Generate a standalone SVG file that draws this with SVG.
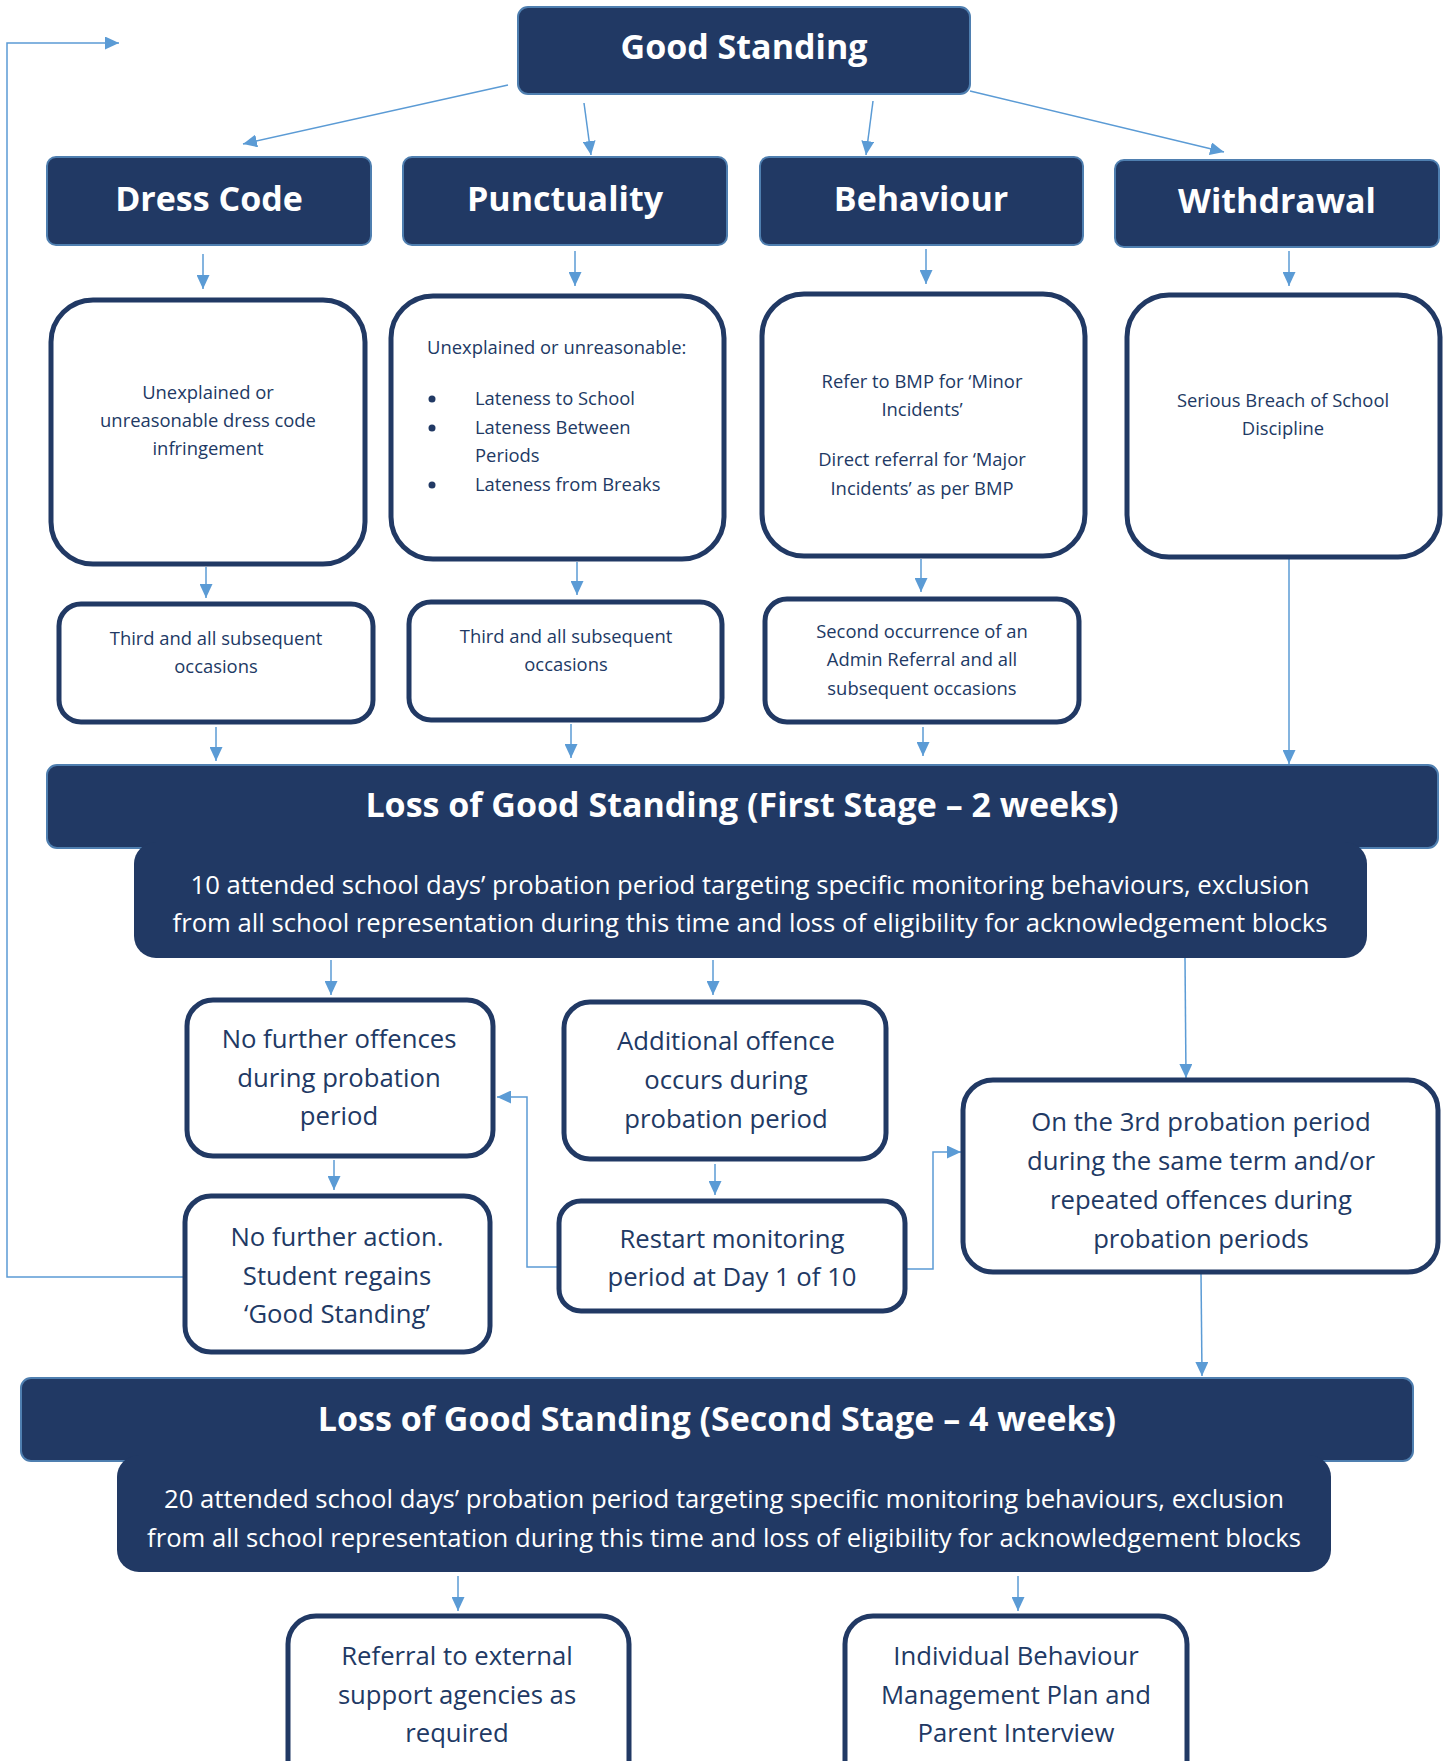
<svg xmlns="http://www.w3.org/2000/svg" width="1450" height="1761" viewBox="0 0 1450 1761">
<defs>
<marker id="ah" viewBox="0 0 10 10" refX="10" refY="5" markerWidth="14" markerHeight="13" markerUnits="userSpaceOnUse" orient="auto" preserveAspectRatio="none">
<path d="M0,0 L10,5 L0,10 z" fill="#5B9BD5"/>
</marker>
<style>
.hd{fill:#213964;stroke:#4F7FB0;stroke-width:2}
.bx{fill:#ffffff;stroke:#213964;stroke-width:5}
.ht{font-family:"Open Sans","Noto Sans",sans-serif;font-weight:bold;fill:#ffffff;text-anchor:middle}
.wt{font-family:"Open Sans","Noto Sans",sans-serif;fill:#ffffff;text-anchor:middle;font-size:25px}
.t{font-family:"Open Sans","Noto Sans",sans-serif;fill:#213964;text-anchor:middle}
.s{font-size:18.4px}
.m{font-size:25.7px}
.c{fill:none;stroke:#5B9BD5;stroke-width:1.5;marker-end:url(#ah)}
</style>
</defs>
<rect width="1450" height="1761" fill="#ffffff"/>

<g id="connectors">
<line class="c" x1="508" y1="85" x2="243" y2="144"/>
<line class="c" x1="584" y1="103" x2="591" y2="155"/>
<line class="c" x1="873" y1="101" x2="866" y2="155"/>
<line class="c" x1="970" y1="91" x2="1224" y2="152"/>
<line class="c" x1="203" y1="254" x2="203" y2="289"/>
<line class="c" x1="575" y1="251" x2="575" y2="286"/>
<line class="c" x1="926" y1="249" x2="926" y2="284"/>
<line class="c" x1="1289" y1="251" x2="1289" y2="286"/>
<line class="c" x1="206" y1="567" x2="206" y2="598"/>
<line class="c" x1="577" y1="562" x2="577" y2="595"/>
<line class="c" x1="921" y1="559" x2="921" y2="592"/>
<line class="c" x1="1289" y1="558" x2="1289" y2="764"/>
<line class="c" x1="216" y1="727" x2="216" y2="761"/>
<line class="c" x1="571" y1="724" x2="571" y2="758"/>
<line class="c" x1="923" y1="727" x2="923" y2="756"/>
<line class="c" x1="331" y1="960" x2="331" y2="995"/>
<line class="c" x1="713" y1="960" x2="713" y2="995"/>
<line class="c" x1="1185" y1="958" x2="1186" y2="1078"/>
<line class="c" x1="334" y1="1160" x2="334" y2="1190"/>
<line class="c" x1="715" y1="1164" x2="715" y2="1195"/>
<polyline class="c" points="558,1267 527,1267 527,1097 497,1097"/>
<polyline class="c" points="905,1269 933,1269 933,1152 961,1152"/>
<polyline class="c" points="184,1277 7,1277 7,43 119,43"/>
<line class="c" x1="1201" y1="1273" x2="1202" y2="1376"/>
<line class="c" x1="458" y1="1576" x2="458" y2="1611"/>
<line class="c" x1="1018" y1="1576" x2="1018" y2="1611"/>
</g>

<g id="good-standing">
<rect class="hd" x="518" y="7" width="452" height="87" rx="10"/>
<text class="ht" x="744" y="59" font-size="34">Good Standing</text>
</g>

<g id="dress-code">
<rect class="hd" x="47" y="157" width="324" height="88" rx="9"/>
<text class="ht" x="209" y="211" font-size="34">Dress Code</text>
</g>
<g id="punctuality">
<rect class="hd" x="403" y="157" width="324" height="88" rx="9"/>
<text class="ht" x="565" y="211" font-size="34">Punctuality</text>
</g>
<g id="behaviour">
<rect class="hd" x="760" y="157" width="323" height="88" rx="9"/>
<text class="ht" x="921" y="211" font-size="34">Behaviour</text>
</g>
<g id="withdrawal">
<rect class="hd" x="1115" y="160" width="324" height="87" rx="9"/>
<text class="ht" x="1277" y="213" font-size="34">Withdrawal</text>
</g>

<g id="dress-criteria">
<rect class="bx" x="51" y="300" width="314" height="264" rx="42"/>
<text class="t s" x="208" y="399">Unexplained or</text>
<text class="t s" x="208" y="427">unreasonable dress code</text>
<text class="t s" x="208" y="455">infringement</text>
</g>
<g id="punctuality-criteria">
<rect class="bx" x="391" y="296" width="333" height="263" rx="42"/>
<text class="t s" x="427" y="354" style="text-anchor:start">Unexplained or unreasonable:</text>
<circle cx="432" cy="399" r="3.5" fill="#213964"/>
<circle cx="432" cy="428" r="3.5" fill="#213964"/>
<circle cx="432" cy="485" r="3.5" fill="#213964"/>
<text class="t s" x="475" y="405" style="text-anchor:start">Lateness to School</text>
<text class="t s" x="475" y="434" style="text-anchor:start">Lateness Between</text>
<text class="t s" x="475" y="462" style="text-anchor:start">Periods</text>
<text class="t s" x="475" y="491" style="text-anchor:start">Lateness from Breaks</text>
</g>
<g id="behaviour-criteria">
<rect class="bx" x="762" y="294" width="323" height="262" rx="42"/>
<text class="t s" x="922" y="388">Refer to BMP for ‘Minor</text>
<text class="t s" x="922" y="416">Incidents’</text>
<text class="t s" x="922" y="466">Direct referral for ‘Major</text>
<text class="t s" x="922" y="495">Incidents’ as per BMP</text>
</g>
<g id="withdrawal-criteria">
<rect class="bx" x="1127" y="295" width="313" height="262" rx="42"/>
<text class="t s" x="1283" y="407">Serious Breach of School</text>
<text class="t s" x="1283" y="435">Discipline</text>
</g>

<g id="dress-occasions">
<rect class="bx" x="59" y="604" width="314" height="118" rx="22"/>
<text class="t s" x="216" y="645">Third and all subsequent</text>
<text class="t s" x="216" y="673">occasions</text>
</g>
<g id="punctuality-occasions">
<rect class="bx" x="409" y="602" width="313" height="118" rx="22"/>
<text class="t s" x="566" y="643">Third and all subsequent</text>
<text class="t s" x="566" y="671">occasions</text>
</g>
<g id="behaviour-occasions">
<rect class="bx" x="765" y="599" width="314" height="123" rx="22"/>
<text class="t s" x="922" y="638">Second occurrence of an</text>
<text class="t s" x="922" y="666">Admin Referral and all</text>
<text class="t s" x="922" y="695">subsequent occasions</text>
</g>

<g id="first-stage">
<rect class="hd" x="47" y="765" width="1391" height="83" rx="10"/>
<rect x="134" y="842" width="1233" height="116" rx="22" fill="#213964"/>
<text class="ht" x="742" y="817" font-size="34">Loss of Good Standing (First Stage – 2 weeks)</text>
<text class="wt" x="750" y="894" textLength="1119" lengthAdjust="spacingAndGlyphs">10 attended school days’ probation period targeting specific monitoring behaviours, exclusion</text>
<text class="wt" x="750" y="932" textLength="1155" lengthAdjust="spacingAndGlyphs">from all school representation during this time and loss of eligibility for acknowledgement blocks</text>
</g>

<g id="no-further-offences">
<rect class="bx" x="187" y="1000" width="306" height="156" rx="26"/>
<text class="t m" x="339" y="1048">No further offences</text>
<text class="t m" x="339" y="1087">during probation</text>
<text class="t m" x="339" y="1125">period</text>
</g>
<g id="additional-offence">
<rect class="bx" x="564" y="1002" width="322" height="157" rx="26"/>
<text class="t m" x="726" y="1050">Additional offence</text>
<text class="t m" x="726" y="1089">occurs during</text>
<text class="t m" x="726" y="1128">probation period</text>
</g>
<g id="third-probation">
<rect class="bx" x="963" y="1080" width="475" height="192" rx="30"/>
<text class="t m" x="1201" y="1131">On the 3rd probation period</text>
<text class="t m" x="1201" y="1170">during the same term and/or</text>
<text class="t m" x="1201" y="1209">repeated offences during</text>
<text class="t m" x="1201" y="1248">probation periods</text>
</g>
<g id="no-further-action">
<rect class="bx" x="185" y="1196" width="305" height="156" rx="26"/>
<text class="t m" x="337" y="1246">No further action.</text>
<text class="t m" x="337" y="1285">Student regains</text>
<text class="t m" x="337" y="1323">‘Good Standing’</text>
</g>
<g id="restart-monitoring">
<rect class="bx" x="559" y="1201" width="346" height="110" rx="22"/>
<text class="t m" x="732" y="1248">Restart monitoring</text>
<text class="t m" x="732" y="1286">period at Day 1 of 10</text>
</g>

<g id="second-stage">
<rect class="hd" x="21" y="1378" width="1392" height="83" rx="10"/>
<rect x="117" y="1455" width="1214" height="117" rx="22" fill="#213964"/>
<text class="ht" x="717" y="1431" font-size="34">Loss of Good Standing (Second Stage – 4 weeks)</text>
<text class="wt" x="724" y="1508" textLength="1120" lengthAdjust="spacingAndGlyphs">20 attended school days’ probation period targeting specific monitoring behaviours, exclusion</text>
<text class="wt" x="724" y="1547" textLength="1154" lengthAdjust="spacingAndGlyphs">from all school representation during this time and loss of eligibility for acknowledgement blocks</text>
</g>

<g id="external-referral">
<rect class="bx" x="288" y="1616" width="341" height="190" rx="28"/>
<text class="t m" x="457" y="1665">Referral to external</text>
<text class="t m" x="457" y="1704">support agencies as</text>
<text class="t m" x="457" y="1742">required</text>
</g>
<g id="behaviour-plan">
<rect class="bx" x="845" y="1616" width="342" height="190" rx="28"/>
<text class="t m" x="1016" y="1665">Individual Behaviour</text>
<text class="t m" x="1016" y="1704">Management Plan and</text>
<text class="t m" x="1016" y="1742">Parent Interview</text>
</g>
</svg>
